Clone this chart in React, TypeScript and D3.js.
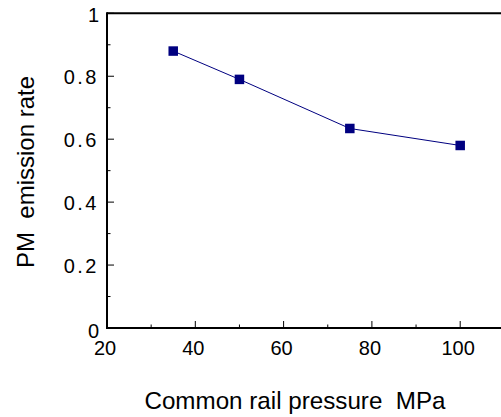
import React from "react";
import * as d3 from "d3";

const pressures = [35, 50, 75, 100];
const pmRates = [0.88, 0.79, 0.634, 0.58];
const xTicks = [20, 40, 60, 80, 100];
const xMinorTicks = [30, 50, 70, 90, 110];
const yTicks = [0, 0.2, 0.4, 0.6, 0.8, 1];
const yMinorTicks = [0.1, 0.3, 0.5, 0.7, 0.9];
const yTickLabels = ["0", "0.2", "0.4", "0.6", "0.8", "1"];
const xTitle = "Common rail pressure  MPa";
const yTitle = "PM  emission rate";

const W = 501;
const H = 417;
const L = 107;
const T = 13.3;
const B = 328;

export default function App() {
  const x = d3.scaleLinear().domain([20, 120]).range([L, L + 441.5]);
  const y = d3.scaleLinear().domain([0, 1]).range([B, T]);
  const line = d3
    .line<number>()
    .x((_, i) => x(pressures[i]))
    .y((d) => y(d));
  const font = "'Liberation Sans', Arial, sans-serif";
  const navy = "#000080";
  const ms = 9.5;
  return (
    <svg
      width={W}
      height={H}
      style={{ position: "absolute", left: 0, top: 0, background: "#fff" }}
      fontFamily={font}
    >
      <rect x={0} y={0} width={W} height={H} fill="#fff" />
      {/* frame */}
      <line x1={L} x2={W + 5} y1={T} y2={T} stroke="#000" strokeWidth={2} />
      <line x1={L} x2={W + 5} y1={B} y2={B} stroke="#000" strokeWidth={2} />
      <line x1={L} x2={L} y1={T - 1} y2={B + 1} stroke="#000" strokeWidth={2} />
      {/* x ticks */}
      {xTicks.map((t) => (
        <line key={"xt" + t} x1={x(t)} x2={x(t)} y1={B} y2={B - 7} stroke="#000" strokeWidth={1} />
      ))}
      {xMinorTicks.map((t) => (
        <line key={"xm" + t} x1={x(t)} x2={x(t)} y1={B} y2={B - 3.5} stroke="#000" strokeWidth={1} />
      ))}
      {xTicks.map((t) => (
        <text key={"xl" + t} x={x(t) - 2} y={355} textAnchor="middle" fontSize={20} fill="#000">
          {t}
        </text>
      ))}
      {/* y ticks */}
      {yTicks.map((t) => (
        <line key={"yt" + t} x1={L} x2={L + 7} y1={y(t)} y2={y(t)} stroke="#000" strokeWidth={1} />
      ))}
      {yMinorTicks.map((t) => (
        <line key={"ym" + t} x1={L} x2={L + 3.5} y1={y(t)} y2={y(t)} stroke="#000" strokeWidth={1} />
      ))}
      {yTicks.map((t, i) => (
        <text
          key={"yl" + t}
          x={99}
          y={y(t) + 7.5 + (i === 0 ? 2 : 0) + (i === yTicks.length - 1 ? 1.5 : 0)}
          textAnchor="end"
          fontSize={20}
          fill="#000"
          letterSpacing={i === 0 || i === yTicks.length - 1 ? 0 : 2.5}
        >
          {yTickLabels[i]}
        </text>
      ))}
      {/* series */}
      <path d={line(pmRates) || ""} fill="none" stroke={navy} strokeWidth={1} />
      {pmRates.map((v, i) => (
        <rect
          key={"m" + i}
          x={x(pressures[i]) - ms / 2}
          y={y(v) - ms / 2}
          width={ms}
          height={ms}
          fill={navy}
        />
      ))}
      {/* titles */}
      <text x={295} y={409} textAnchor="middle" fontSize={24.2} fill="#000" style={{ whiteSpace: "pre" }}>
        {xTitle}
      </text>
      <text
        transform={`translate(34,172) rotate(-90)`}
        textAnchor="middle"
        fontSize={24}
        fill="#000"
        style={{ whiteSpace: "pre" }}
      >
        {yTitle}
      </text>
    </svg>
  );
}
